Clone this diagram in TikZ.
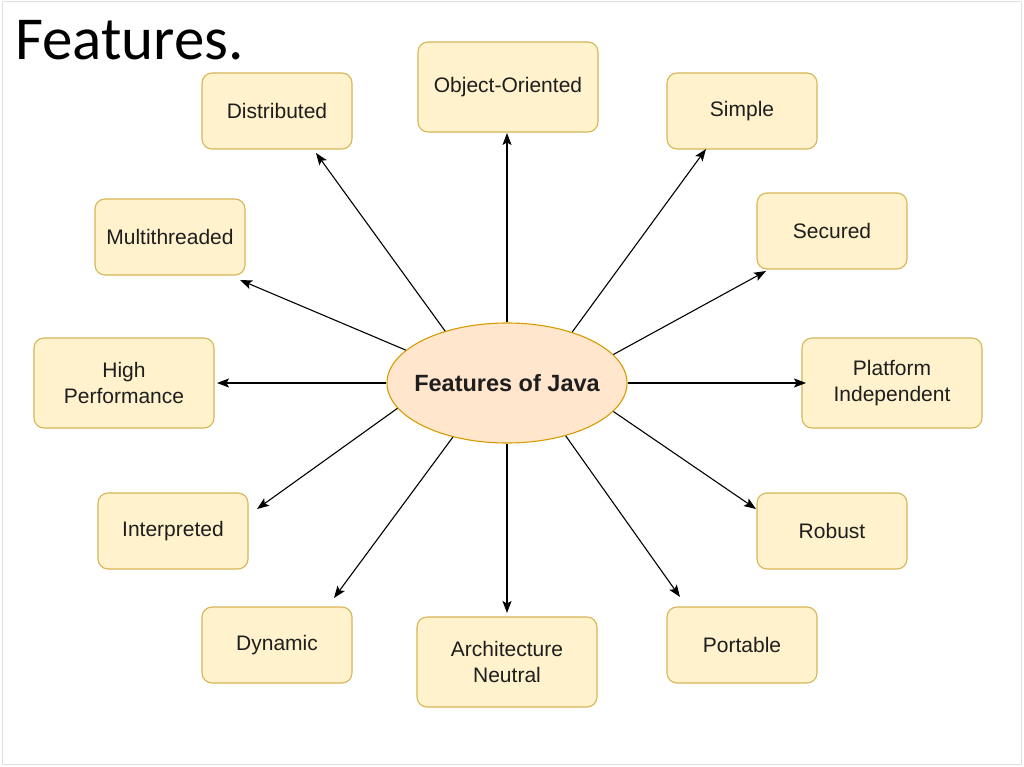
\documentclass[tikz,border=0pt]{standalone}
\usepackage{fontspec}
\setmainfont{Liberation Sans}
\newfontfamily\boxfont{Liberation Sans}
\newfontfamily\titlefont{Carlito}
\usetikzlibrary{arrows.meta,shapes.geometric}
\definecolor{boxfill}{HTML}{FFF2CC}
\definecolor{boxdraw}{HTML}{D6B656}
\definecolor{ellfill}{HTML}{FFE6CC}
\definecolor{elldraw}{HTML}{D79B00}
\definecolor{txt}{HTML}{1E1E1E}
\tikzset{
  feat/.style={draw=boxdraw, fill=boxfill, line width=1.1pt, rounded corners=10pt,
    minimum width=150pt, minimum height=76pt, inner sep=0pt, align=center,
    text=txt, font=\boxfont\fontsize{21}{26}\selectfont},
  featbig/.style={feat, minimum width=180pt, minimum height=90pt},
  arr/.style={line width=1.1pt, -{Stealth[length=12pt,width=9pt,inset=2.5pt]}}
}
\begin{document}
\begin{tikzpicture}[x=1pt,y=-1pt]
\useasboundingbox (0,0) rectangle (1024,767);
\draw[black!12, line width=1pt] (2,2) rectangle (1021,764);
\node[anchor=base west, inner sep=0pt, font=\titlefont\fontsize{61}{70}\selectfont] (title) at (15,60) {Features.};

\node[ellipse, draw=elldraw, fill=ellfill, line width=1.1pt, minimum width=240pt, minimum height=120pt,
  inner xsep=-14pt, inner ysep=0pt,
  font=\boxfont\bfseries\fontsize{23.5}{28}\selectfont, text=txt] (c) at (507,383) {Features of Java};

\node[feat] (dist) at (277,111) {Distributed};
\node[featbig] (oo) at (508,87) {Object-Oriented};
\node[feat] (simple) at (742,111) {Simple};
\node[feat] (multi) at (170,237) {Multithreaded};
\node[feat] (sec) at (832,231) {Secured};
\node[featbig] (high) at (124,383) {High\\Performance};
\node[featbig] (plat) at (892,383) {Platform\\Independent};
\node[feat] (interp) at (173,531) {Interpreted};
\node[feat] (rob) at (832,531) {Robust};
\node[feat] (dyn) at (277,645) {Dynamic};
\node[featbig] (arch) at (507,662) {Architecture\\Neutral};
\node[feat] (port) at (742,645) {Portable};

\coordinate (tdist) at (316,153);
\coordinate (too) at (507,133);
\coordinate (tsimple) at (706,149);
\coordinate (tmulti) at (240,280);
\coordinate (tsec) at (766,271);
\coordinate (thigh) at (217,383);
\coordinate (tplat) at (806,383);
\coordinate (tinterp) at (257,509);
\coordinate (trob) at (756,509);
\coordinate (tdyn) at (334,598);
\coordinate (tarch) at (507,613);
\coordinate (tport) at (680,597);

\draw[arr] (c.140) -- (tdist);
\draw[arr] (c.90) -- (too);
\draw[arr] (c.38) -- (tsimple);
\draw[arr] (c.162) -- (tmulti);
\draw[arr] (c.15) -- (tsec);
\draw[arr] (c.180) -- (thigh);
\draw[arr] (c.0) -- (tplat);
\draw[arr] (c.-167) -- (tinterp);
\draw[arr] (c.-15.5) -- (trob);
\draw[arr] (c.-135) -- (tdyn);
\draw[arr] (c.-90) -- (tarch);
\draw[arr] (c.-42.5) -- (tport);
\end{tikzpicture}
\end{document}
